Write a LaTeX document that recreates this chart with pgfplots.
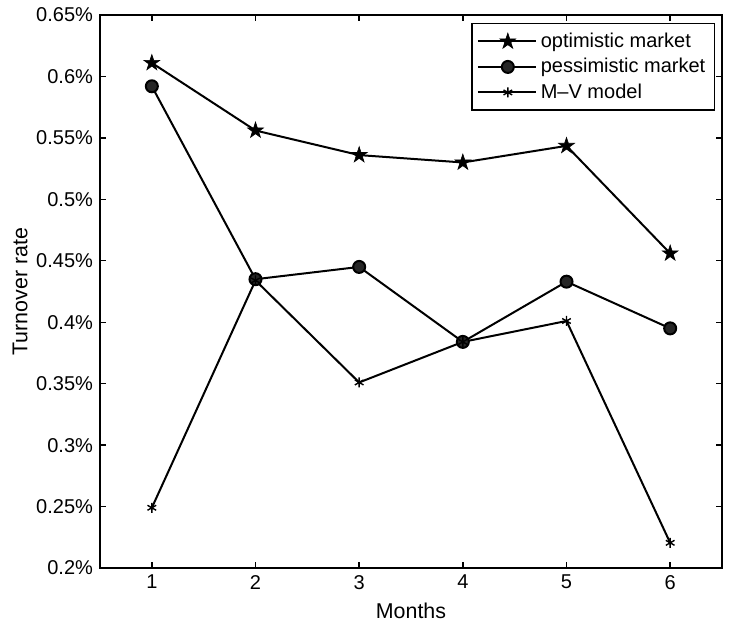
\documentclass[border=0pt]{standalone}
\usepackage{pgfplots}
\pgfplotsset{compat=1.18}
\usepackage{fontspec}
\setmainfont{Liberation Sans}
\pgfdeclareplotmark{pentagram}{%
  \pgfpathmoveto{\pgfpointpolar{90}{\pgfplotmarksize}}%
  \pgfpathlineto{\pgfpointpolar{126}{0.382\pgfplotmarksize}}%
  \pgfpathlineto{\pgfpointpolar{162}{\pgfplotmarksize}}%
  \pgfpathlineto{\pgfpointpolar{198}{0.382\pgfplotmarksize}}%
  \pgfpathlineto{\pgfpointpolar{234}{\pgfplotmarksize}}%
  \pgfpathlineto{\pgfpointpolar{270}{0.382\pgfplotmarksize}}%
  \pgfpathlineto{\pgfpointpolar{306}{\pgfplotmarksize}}%
  \pgfpathlineto{\pgfpointpolar{342}{0.382\pgfplotmarksize}}%
  \pgfpathlineto{\pgfpointpolar{18}{\pgfplotmarksize}}%
  \pgfpathlineto{\pgfpointpolar{54}{0.382\pgfplotmarksize}}%
  \pgfpathclose
  \pgfusepathqfillstroke}
\begin{document}
\begin{tikzpicture}
\begin{axis}[
  scale only axis,
  width=311pt, height=276.5pt,
  xmin=0.5, xmax=6.5,
  ymin=0.2, ymax=0.65,
  xtick={1,2,3,4,5,6},
  ytick={0.2,0.25,0.3,0.35,0.4,0.45,0.5,0.55,0.6,0.65},
  yticklabel={\pgfmathprintnumber{\tick}\%},
  /pgf/number format/assume math mode=true,
  tick align=inside,
  major tick length=3pt,
  axis line style={line width=0.8pt},
  every tick/.style={line width=0.7pt, black},
  font=\fontsize{10}{12}\selectfont,
  tick label style={font=\fontsize{10}{12}\selectfont},
  xlabel={Months},
  ylabel={Turnover rate},
  label style={font=\fontsize{10.7}{12}\selectfont},
  ylabel style={at={(axis description cs:-0.1158,0.5)}, anchor=south, inner sep=0pt},
  xlabel style={at={(axis description cs:0.5,0)}, anchor=north, yshift=-17.5pt, inner sep=0pt},
  legend style={at={(1,1)}, anchor=north east, xshift=-3.5pt, yshift=-4pt,
    draw=black, line width=0.7pt, fill=white, font=\fontsize{10}{12}\selectfont,
    row sep=0pt, inner sep=2.5pt},
  legend cell align=left,
  legend image code/.code={\draw[mark repeat=2,mark phase=2,#1] plot coordinates {(0pt,0pt) (15pt,0pt) (29pt,0pt)};},
]
\addplot[black, line width=1pt, mark=pentagram, mark size=4.2pt, mark options={fill=black, line width=0.3pt}]
  coordinates {(1,0.611) (2,0.556) (3,0.536) (4,0.530) (5,0.5435) (6,0.456)};
\addlegendentry{optimistic market}
\addplot[black, line width=1pt, mark=*, mark size=3pt, mark options={fill=black!85, draw=black}]
  coordinates {(1,0.592) (2,0.435) (3,0.445) (4,0.384) (5,0.433) (6,0.395)};
\addlegendentry{pessimistic market}
\addplot[black, line width=1pt, mark=asterisk, mark size=2.5pt, mark options={line width=0.7pt}]
  coordinates {(1,0.249) (2,0.434) (3,0.351) (4,0.384) (5,0.401) (6,0.2205)};
\addlegendentry{M\textendash V model}
\end{axis}
\path (current axis.south west) ++(-50pt,-31.5pt);
\path (current axis.north east) ++(3.5pt,7.5pt);
\end{tikzpicture}
\end{document}
